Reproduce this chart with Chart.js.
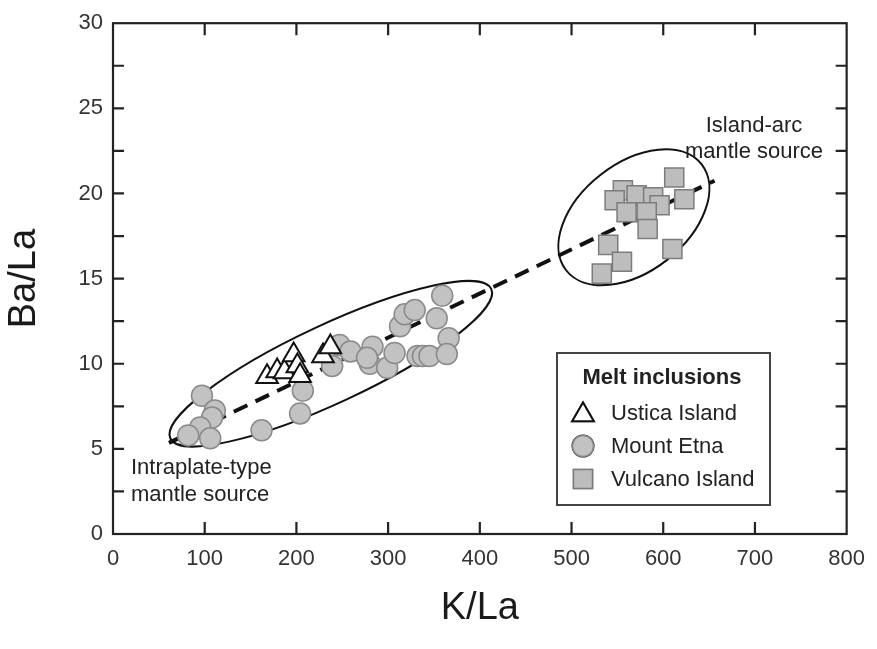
<!DOCTYPE html>
<html>
<head>
<meta charset="utf-8">
<script src="https://cdn.jsdelivr.net/npm/chart.js@4.4.1/dist/chart.umd.min.js"></script>
<style>
  body { margin: 0; background: #fff; }
  #wrap { width: 877px; height: 649px; }
</style>
</head>
<body>
<div id="wrap"><canvas id="chart" width="877" height="649"></canvas></div>
<script>
// data (K/La vs Ba/La)
const usticaX = [168, 179, 187, 197, 201, 204, 229, 237];
const usticaY = [9.23, 9.58, 9.52, 10.51, 9.87, 9.29, 10.45, 10.98];

const etnaX = [97, 111, 108, 95, 82, 106, 162, 204, 207,
  239, 247, 259, 283, 280, 277, 299, 307, 313, 318, 329, 359, 353, 366, 332, 338, 345, 364];
const etnaY = [8.12, 7.25, 6.84, 6.26, 5.79, 5.62, 6.09, 7.08, 8.42,
  9.87, 11.1, 10.72, 11.0, 10.0, 10.35, 9.76, 10.63, 12.2, 12.9, 13.15, 14.0, 12.67, 11.5, 10.45, 10.45, 10.45, 10.57];

const vulcanoX = [612, 623, 556, 571, 547, 589, 596, 560, 582, 583, 540, 555, 533, 610];
const vulcanoY = [20.94, 19.66, 20.18, 19.89, 19.6, 19.77, 19.31, 18.9, 18.9, 17.91, 16.98, 15.99, 15.29, 16.74];

// mixing trend between the two mantle sources
const trendX = [61, 656];
const trendY = [5.35, 20.75];

const xTicks = [0, 100, 200, 300, 400, 500, 600, 700, 800];
const yTicks = [0, 5, 10, 15, 20, 25, 30];

const toPoints = (xs, ys) => xs.map((v, i) => ({ x: v, y: ys[i] }));

const FONT = "'Liberation Sans', Arial, sans-serif";
Chart.defaults.font.family = FONT;
Chart.defaults.color = '#333';

// fields drawn around the two groups: centre in data units, radii in px
const fields = [
  { cx: 237.5, cy: 10.0, a: 177, b: 39, rot: -25 },
  { cx: 568, cy: 18.6, a: 86, b: 54, rot: -38 }
];

const ellipses = {
  id: 'ellipses',
  beforeDatasetsDraw(chart) {
    const { ctx, scales: { x, y } } = chart;
    ctx.save();
    ctx.strokeStyle = '#111';
    ctx.lineWidth = 2;
    fields.forEach(f => {
      ctx.beginPath();
      ctx.ellipse(x.getPixelForValue(f.cx), y.getPixelForValue(f.cy), f.a, f.b, f.rot * Math.PI / 180, 0, Math.PI * 2);
      ctx.stroke();
    });
    ctx.restore();
  }
};

// box with inward ticks on all four sides
const frame = {
  id: 'frame',
  afterDraw(chart) {
    const { ctx, chartArea: a, scales: { x, y } } = chart;
    ctx.save();
    ctx.strokeStyle = '#222';
    ctx.lineWidth = 2.2;
    ctx.strokeRect(a.left, a.top, a.right - a.left, a.bottom - a.top);
    ctx.beginPath();
    x.ticks.forEach(t => {
      const px = x.getPixelForValue(t.value);
      if (px < a.left + 2 || px > a.right - 2) return;
      ctx.moveTo(px, a.bottom); ctx.lineTo(px, a.bottom - 12);
      ctx.moveTo(px, a.top); ctx.lineTo(px, a.top + 12);
    });
    y.ticks.forEach(t => {
      const py = y.getPixelForValue(t.value);
      if (py < a.top + 2 || py > a.bottom - 2) return;
      ctx.moveTo(a.left, py); ctx.lineTo(a.left + 11, py);
      ctx.moveTo(a.right, py); ctx.lineTo(a.right - 11, py);
    });
    ctx.stroke();
    ctx.restore();
  }
};

const notes = {
  id: 'notes',
  afterDraw(chart) {
    const { ctx } = chart;
    ctx.save();
    ctx.fillStyle = '#222';
    ctx.font = '22px ' + FONT;
    ctx.textBaseline = 'middle';
    ctx.textAlign = 'center';
    ctx.fillText('Island-arc', 754, 126);
    ctx.fillText('mantle source', 754, 152);
    ctx.textAlign = 'left';
    ctx.fillText('Intraplate-type', 131, 468);
    ctx.fillText('mantle source', 131, 495);

    // legend box
    ctx.fillStyle = '#fff';
    ctx.fillRect(557, 353, 213, 152);
    ctx.strokeStyle = '#444';
    ctx.lineWidth = 2;
    ctx.strokeRect(557, 353, 213, 152);
    ctx.fillStyle = '#222';
    ctx.textAlign = 'center';
    ctx.font = 'bold 22px ' + FONT;
    ctx.fillText('Melt inclusions', 662, 378);
    ctx.textAlign = 'left';
    ctx.font = '22px ' + FONT;
    const rows = [413, 446, 479];
    const shift = [2, 0, 0];
    chart.data.datasets.slice(0, 3).forEach((ds, i) => {
      Chart.helpers.drawPoint(ctx, {
        pointStyle: ds.pointStyle, radius: ds.pointRadius, borderWidth: ds.borderWidth
      }, 583, rows[i] + shift[i]);
      ctx.fillStyle = ds.backgroundColor;
      ctx.strokeStyle = ds.borderColor;
      ctx.lineWidth = ds.borderWidth;
      ctx.fill();
      ctx.stroke();
      ctx.fillStyle = '#222';
      ctx.fillText(ds.label, 611, rows[i] + 1);
    });
    ctx.restore();
  }
};

new Chart(document.getElementById('chart'), {
  type: 'scatter',
  data: {
    datasets: [
      {
        label: 'Ustica Island',
        data: toPoints(usticaX, usticaY),
        pointStyle: 'triangle',
        pointRadius: 12.5,
        backgroundColor: '#ffffff',
        borderColor: '#111111',
        borderWidth: 2,
        order: 0
      },
      {
        label: 'Mount Etna',
        data: toPoints(etnaX, etnaY),
        pointStyle: 'circle',
        pointRadius: 10.5,
        backgroundColor: '#c2c2c2',
        borderColor: '#8a8a8a',
        borderWidth: 1.5,
        order: 1
      },
      {
        label: 'Vulcano Island',
        data: toPoints(vulcanoX, vulcanoY),
        pointStyle: 'rect',
        pointRadius: 13.5,
        backgroundColor: '#bdbdbd',
        borderColor: '#7c7c7c',
        borderWidth: 1.5,
        order: 2
      },
      {
        type: 'line',
        label: 'trend',
        data: toPoints(trendX, trendY),
        borderColor: '#111111',
        borderWidth: 4,
        borderDash: [15, 9],
        pointRadius: 0,
        fill: false,
        order: 3
      }
    ]
  },
  options: {
    responsive: false,
    animation: false,
    devicePixelRatio: 1,
    layout: { padding: { top: 20, right: 29, left: 0, bottom: 0 } },
    plugins: { legend: { display: false }, tooltip: { enabled: false } },
    scales: {
      x: {
        type: 'linear',
        min: 0, max: 800,
        afterFit: s => { s.height = 115; },
        afterBuildTicks: s => { s.ticks = xTicks.map(v => ({ value: v })); },
        grid: { display: false, drawTicks: false },
        border: { display: false },
        ticks: { padding: 12, font: { size: 22 }, color: '#333' },
        title: { display: true, text: 'K/La', font: { size: 38 }, color: '#1a1a1a', padding: { top: 0, bottom: 18 } }
      },
      y: {
        type: 'linear',
        min: 0, max: 30,
        afterFit: s => { s.width = 113; },
        afterBuildTicks: s => {
          const t = [];
          for (let i = 0; i < yTicks.length; i++) {
            t.push({ value: yTicks[i] });
            if (i < yTicks.length - 1) t.push({ value: yTicks[i] + 2.5 });
          }
          s.ticks = t;
        },
        grid: { display: false, drawTicks: false },
        border: { display: false },
        ticks: {
          padding: 10, font: { size: 22 }, color: '#333',
          callback: v => (yTicks.includes(v) ? v : '')
        },
        title: { display: true, text: 'Ba/La', font: { size: 38 }, color: '#1a1a1a', padding: { top: 2, bottom: 0 } }
      }
    }
  },
  plugins: [ellipses, frame, notes]
});
</script>
</body>
</html>
